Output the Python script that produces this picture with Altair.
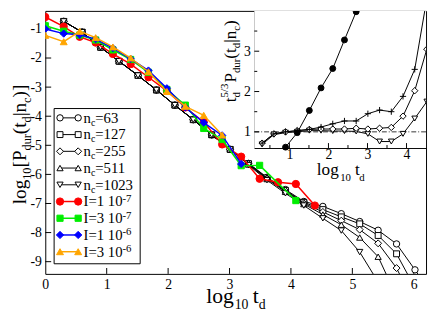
import altair as alt
import pandas as pd

# ---------------- data ----------------
# main panel: black curves for several n_c (x = log10 t_d)
x_nc = [0.30, 0.60, 0.90, 1.20, 1.51, 1.81, 2.11, 2.41, 2.71, 3.01, 3.31,
        3.61, 3.91, 4.21, 4.52, 4.82, 5.12, 5.42, 5.72, 6.02, 6.32]
nc63 = [-0.74, -1.11, -1.63, -2.11, -2.60, -3.10, -3.62, -4.12, -4.64, -5.14, -5.62,
        -6.10, -6.52, -6.93, -7.10, -7.35, -7.62, -7.92, -8.39, -9.28, -10.2]
nc127 = [-0.74, -1.11, -1.63, -2.11, -2.60, -3.10, -3.62, -4.12, -4.64, -5.14, -5.63,
         -6.12, -6.55, -6.96, -7.21, -7.46, -7.70, -8.10, -8.73, -9.90]
nc255 = [-0.74, -1.11, -1.63, -2.11, -2.60, -3.10, -3.62, -4.12, -4.64, -5.14, -5.64,
         -6.14, -6.57, -6.99, -7.29, -7.59, -7.90, -8.37, -9.22, -10.5]
nc511 = [-0.74, -1.11, -1.63, -2.11, -2.60, -3.10, -3.62, -4.12, -4.64, -5.14, -5.66,
         -6.16, -6.60, -7.02, -7.38, -7.73, -8.17, -8.83, -10.2]
nc1023 = [-0.74, -1.11, -1.63, -2.11, -2.60, -3.10, -3.62, -4.12, -4.64, -5.14, -5.68,
          -6.20, -6.65, -7.07, -7.51, -7.93, -8.67, -9.70]

# main panel: coloured curves for several I
x_I = [0.00, 0.30, 0.56, 0.82, 1.10, 1.39, 1.68, 1.98, 2.28, 2.58, 2.88, 3.19,
       3.49, 3.79, 4.08, 4.39]
I1e7 = [-0.59, -0.92, -1.27, -1.47, -1.86, -2.21, -2.66, -3.13, -3.70, -4.20, -4.97,
        -5.39, -6.15, -6.27, -6.33, -7.07]
I3e7 = [-0.89, -1.08, -1.21, -1.38, -1.72, -2.05, -2.49, -3.08, -3.62, -4.42, -4.80,
        -5.70, -5.69]
I3e7_tail_x = [3.49, 4.08]
I3e7_tail_y = [-5.69, -6.90]
I1e6 = [-1.00, -1.16, -1.20, -1.35, -1.66, -2.03, -2.43, -3.04, -3.70, -4.22, -4.66, -5.64]
I3e6 = [-1.22, -1.44, -1.08, -1.30, -1.62, -2.00, -2.47, -3.15, -3.66, -3.97, -4.65]

# inset: t_d^{5/3} P_dur
x_in = [0.30, 0.60, 0.90, 1.20, 1.51, 1.81, 2.11, 2.41, 2.71, 3.01, 3.31, 3.61, 3.91, 4.21, 4.52]
in_plus = [0.72, 0.95, 1.00, 1.03, 1.06, 1.12, 1.20, 1.27, 1.27, 1.45, 1.54, 1.50, 1.88, 2.55, 4.30]
in_diam = [0.72, 0.95, 1.00, 1.03, 1.06, 1.07, 1.07, 1.07, 1.09, 1.07, 1.09, 1.11, 1.39, 2.02, 3.05]
in_dtri = [0.69, 0.93, 0.98, 1.00, 1.03, 1.03, 1.02, 1.02, 1.01, 0.95, 0.76, 0.76, 0.95, 1.33, 1.75]
x_in_fc = [0.90, 1.20, 1.51, 1.81, 2.11, 2.41, 2.71, 3.01]
in_fc = [0.62, 0.98, 1.53, 2.09, 2.57, 3.28, 3.98, 4.70]

main_xticks = [0, 1, 2, 3, 4, 5, 6]
main_yticks = [-9, -8, -7, -6, -5, -4, -3, -2, -1]
in_xticks = [1, 2, 3, 4]
in_xminor = [0.5, 1.5, 2.5, 3.5]
in_yticks = [1, 2, 3]
in_yminor = [1.5, 2.5, 3.5]

# ---------------- layout ----------------
FONT = "Liberation Serif"
OX, OY = 46, 8          # page position of the plot origin
W, H = 434 - OX, 268


def PX(v):
    return v - OX


def PY(v):
    return v - OY


IN_L, IN_B = PX(259), PY(147.7)

xs = alt.Scale(domain=[0, 6.2], nice=False, zero=False)
ys = alt.Scale(domain=[-9.42, -0.38], nice=False, zero=False)
xis = alt.Scale(domain=[0.1, 4.5], range=[IN_L, W], nice=False, zero=False)
yis = alt.Scale(domain=[0.6, 4.0], range=[IN_B, 0], nice=False, zero=False)

xaxis = alt.Axis(values=main_xticks, ticks=False, domain=False, grid=False,
                 labelFontSize=14, labelPadding=4, title=None, labelFlush=False)
yaxis = alt.Axis(values=main_yticks, labelExpr="'' + datum.value", ticks=False,
                 domain=False, grid=False, labelFontSize=14, labelPadding=4,
                 title=None, labelFlush=False)
xiaxis = alt.Axis(orient="bottom", offset=-(H - IN_B), values=in_xticks, ticks=False,
                  domain=True, domainColor="black", grid=False, labelFontSize=14,
                  labelPadding=0, title=None, labelFlush=False)
yiaxis = alt.Axis(orient="left", offset=-IN_L, values=in_yticks, ticks=False,
                  domain=True, domainColor="black", grid=False, labelFontSize=14,
                  labelPadding=4, title=None, labelFlush=False)

dummy = pd.DataFrame({"k": [0]})

PLUS = "M-1,0L1,0M0,-1L0,1"


def series(xv, yv, color, shape, fill, size, sw, sx, sy, ax, ay):
    n = min(len(xv), len(yv))
    df = pd.DataFrame({"x": xv[:n], "y": yv[:n]})
    base = alt.Chart(df).encode(
        x=alt.X("x:Q", scale=sx, axis=ax),
        y=alt.Y("y:Q", scale=sy, axis=ay),
    )
    line = base.mark_line(color=color, strokeWidth=sw, clip=True)
    if fill is None:
        pts = base.mark_point(shape=shape, size=size, filled=False, stroke=color,
                              strokeWidth=1, opacity=1, clip=True)
    else:
        pts = base.mark_point(shape=shape, size=size, filled=True, fill=fill,
                              stroke=color, strokeWidth=1, opacity=1, clip=True)
    return [line, pts]


def m_series(xv, yv, color, shape, fill, size=42, sw=1.0):
    return series(xv, yv, color, shape, fill, size, sw, xs, ys, xaxis, yaxis)


def i_series(xv, yv, shape, fill, size=36):
    return series(xv, yv, "black", shape, fill, size, 1.0, xis, yis, xiaxis, yiaxis)


# Times / Liberation Serif advance widths (per 1000 em)
TW = {"l": 278, "o": 500, "g": 500, "[": 333, "]": 333, "P": 556, "d": 500, "u": 500,
      "r": 333, "(": 333, ")": 333, "t": 278, "|": 200, "n": 500, "c": 444, " ": 250,
      "=": 564, "I": 333, "-": 333, "/": 278}


def tw(s, size):
    return sum(TW.get(ch, 500) for ch in s) * size / 1000.0


def txt(s, x, y, size, angle=0, align="left", baseline="alphabetic"):
    return alt.Chart(dummy).mark_text(
        text=s, font=FONT, fontSize=size, angle=angle, align=align,
        baseline=baseline, color="black"
    ).encode(x=alt.value(x), y=alt.value(y))


# ---------------- main panel ----------------
main_layers = []
# inward ticks on main axes
tx = pd.DataFrame({"v": main_xticks[1:]})
main_layers.append(alt.Chart(tx).mark_rule(color="black", strokeWidth=1).encode(
    x=alt.X("v:Q", scale=xs, axis=xaxis), y=alt.value(H), y2=alt.value(H - 6)))
ty = pd.DataFrame({"v": main_yticks})
main_layers.append(alt.Chart(ty).mark_rule(color="black", strokeWidth=1).encode(
    y=alt.Y("v:Q", scale=ys, axis=yaxis), x=alt.value(0), x2=alt.value(6)))

main_layers += m_series(x_nc, nc63, "black", "circle", "white")
main_layers += m_series(x_nc, nc127, "black", "square", "white", size=36)
main_layers += m_series(x_nc, nc255, "black", "diamond", "white", size=50)
main_layers += m_series(x_nc, nc511, "black", "triangle-up", "white", size=40)
main_layers += m_series(x_nc, nc1023, "black", "triangle-down", "white", size=40)

RED, GREEN, BLUE, ORANGE = "#ff0000", "#00ee00", "#0000ff", "#ffa500"
main_layers += m_series(x_I, I1e7, RED, "circle", RED, size=55, sw=1.5)
main_layers += m_series(x_I, I3e7, GREEN, "square", GREEN, size=40, sw=1.5)
main_layers.append(alt.Chart(pd.DataFrame({"x": I3e7_tail_x, "y": I3e7_tail_y}))
                   .mark_line(color=GREEN, strokeWidth=1.5, clip=True)
                   .encode(x=alt.X("x:Q", scale=xs, axis=xaxis),
                           y=alt.Y("y:Q", scale=ys, axis=yaxis)))
main_layers += m_series(I3e7_tail_x[1:], I3e7_tail_y[1:], GREEN, "square", GREEN, size=40, sw=1.5)
main_layers += m_series(x_I, I1e6, BLUE, "diamond", BLUE, size=55, sw=1.5)
main_layers += m_series(x_I, I3e6, ORANGE, "triangle-up", ORANGE, size=50, sw=1.5)

# ---------------- legend ----------------
LEG_L, LEG_R, LEG_T, LEG_B = 55, 142.7, 107.5, 265.7
main_layers.append(alt.Chart(dummy).mark_rect(fill="white", stroke="black", strokeWidth=1)
                   .encode(x=alt.value(PX(LEG_L)), x2=alt.value(PX(LEG_R)),
                           y=alt.value(PY(LEG_T)), y2=alt.value(PY(LEG_B))))
leg_rows = [
    ("black", "circle", "white", 42, [("n", 0), ("c", -1), ("=63", 0)]),
    ("black", "square", "white", 36, [("n", 0), ("c", -1), ("=127", 0)]),
    ("black", "diamond", "white", 50, [("n", 0), ("c", -1), ("=255", 0)]),
    ("black", "triangle-up", "white", 40, [("n", 0), ("c", -1), ("=511", 0)]),
    ("black", "triangle-down", "white", 40, [("n", 0), ("c", -1), ("=1023", 0)]),
    (RED, "circle", RED, 55, [("I=1 10", 0), ("-7", 1)]),
    (GREEN, "square", GREEN, 40, [("I=3 10", 0), ("-7", 1)]),
    (BLUE, "diamond", BLUE, 55, [("I=1 10", 0), ("-6", 1)]),
    (ORANGE, "triangle-up", ORANGE, 50, [("I=3 10", 0), ("-6", 1)]),
]
ROW0, ROWSTEP = 117.0, 17.05
L1, L2, TX0 = 61.0, 79.5, 85.0
for i, (col, shp, fil, sz, pieces) in enumerate(leg_rows):
    yc = ROW0 + i * ROWSTEP
    sw = 1.0 if col == "black" else 1.5
    main_layers.append(alt.Chart(dummy).mark_rule(color=col, strokeWidth=sw).encode(
        x=alt.value(PX(L1)), x2=alt.value(PX(L2)), y=alt.value(PY(yc))))
    for xm in (L1, L2):
        main_layers.append(alt.Chart(dummy).mark_point(
            shape=shp, size=sz, filled=True, fill=fil, stroke=col, strokeWidth=1, opacity=1
        ).encode(x=alt.value(PX(xm)), y=alt.value(PY(yc))))
    cx = TX0
    for s, kind in pieces:
        if kind == 0:
            main_layers.append(txt(s, PX(cx), PY(yc + 5), 15))
            cx += tw(s, 15)
        elif kind == -1:
            main_layers.append(txt(s, PX(cx), PY(yc + 8), 10))
            cx += tw(s, 10)
        else:
            main_layers.append(txt(s, PX(cx), PY(yc + 0.5), 11))
            cx += tw(s, 11)

# ---------------- axis titles (built from pieces for sub/superscripts) ----------------
# main x title
main_layers.append(txt("log", PX(210), PY(306), 22))
main_layers.append(txt("10", PX(239), PY(312), 14))
main_layers.append(txt("t", PX(257.5), PY(306), 22))
main_layers.append(txt("d", PX(263.5), PY(312), 14))

# main y title (rotated, reading upwards)
BX, SBX = 26.5, 31.0
MS, SS = 19.5, 12.5
cy = 205.0
for s, kind in [("log", 0), ("10", -1), ("[P", 0), ("dur", -1), ("(t", 0), ("d", -1),
                ("|n", 0), ("c", -1), (")]", 0)]:
    if kind == 0:
        main_layers.append(txt(s, PX(BX), PY(cy), MS, angle=270))
        cy -= tw(s, MS)
    else:
        main_layers.append(txt(s, PX(SBX), PY(cy), SS, angle=270))
        cy -= tw(s, SS)

# inset x title
main_layers.append(txt("log", PX(322.7), PY(175), 17.5))
main_layers.append(txt("10", PX(346.5), PY(181.5), 11))
main_layers.append(txt("t", PX(361.5), PY(175), 17.5))
main_layers.append(txt("d", PX(366), PY(181.5), 11))

# inset y title
IBX, ISB, ISP = 240.0, 244.5, 232.5
cy = 101.0
main_layers.append(txt("t", PX(IBX), PY(cy), 17.5, angle=270))
cy -= tw("t", 17.5)
main_layers.append(txt("d", PX(ISB), PY(cy), 11, angle=270))
main_layers.append(txt("5/3", PX(ISP), PY(cy), 11, angle=270))
cy -= tw("5/3", 11) + 1
for s, kind in [("P", 0), ("dur", -1), ("(t", 0), ("d", -1), ("|n", 0), ("c", -1), (")", 0)]:
    if kind == 0:
        main_layers.append(txt(s, PX(IBX), PY(cy), 17.5, angle=270))
        cy -= tw(s, 17.5)
    else:
        main_layers.append(txt(s, PX(ISB), PY(cy), 11, angle=270))
        cy -= tw(s, 11)

main = alt.layer(*main_layers)

# ---------------- inset ----------------
in_layers = []
in_layers.append(alt.Chart(dummy).mark_rect(fill="white").encode(
    x=alt.value(IN_L), x2=alt.value(W), y=alt.value(0), y2=alt.value(IN_B)))
# inward ticks
for vals, ln in ((in_xticks, 5), (in_xminor, 3)):
    in_layers.append(alt.Chart(pd.DataFrame({"v": vals})).mark_rule(color="black").encode(
        x=alt.X("v:Q", scale=xis, axis=xiaxis), y=alt.value(IN_B), y2=alt.value(IN_B - ln)))
for vals, ln in ((in_yticks, 5), (in_yminor, 3)):
    in_layers.append(alt.Chart(pd.DataFrame({"v": vals})).mark_rule(color="black").encode(
        y=alt.Y("v:Q", scale=yis, axis=yiaxis), x=alt.value(IN_L), x2=alt.value(IN_L + ln)))
# dash-dot reference line at 1
in_layers.append(alt.Chart(pd.DataFrame({"v": [1.0]})).mark_rule(
    color="black", strokeWidth=0.8, strokeDash=[5, 2, 1, 2]).encode(
    y=alt.Y("v:Q", scale=yis, axis=yiaxis), x=alt.value(IN_L), x2=alt.value(W)))

in_layers += i_series(x_in, in_dtri, "triangle-down", "white", size=34)
in_layers += i_series(x_in, in_diam, "diamond", "white", size=42)
in_layers += i_series(x_in, in_plus, PLUS, None, size=40)
in_layers += i_series(x_in_fc, in_fc, "circle", "black", size=36)

inset = alt.layer(*in_layers)

chart = (
    alt.layer(main, inset)
    .resolve_scale(x="independent", y="independent")
    .properties(width=W, height=H,
                autosize=alt.AutoSizeParams(type="none"),
                padding={"left": OX - 8, "top": 0, "right": 2, "bottom": 42},
                background="white")
    .configure(font=FONT)
    .configure_view(stroke="black", strokeWidth=1)
    .configure_axis(labelFont=FONT, labelColor="black")
)

chart.save("out.html", embed_options={"renderer": "svg", "actions": False})
